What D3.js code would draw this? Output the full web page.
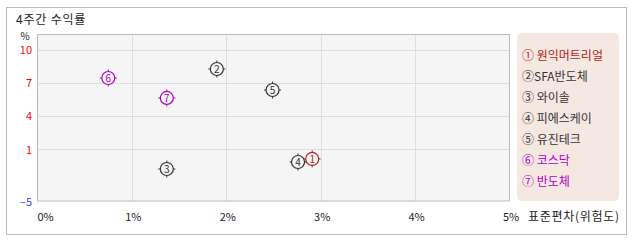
<!DOCTYPE html>
<html>
<head>
<meta charset="utf-8">
<script src="https://cdn.jsdelivr.net/npm/d3@7"></script>
<style>
  body { margin: 0; background: #fff; }
  text { font-family: "Noto Sans CJK KR", "DejaVu Sans", sans-serif; }
</style>
</head>
<body>
<svg id="chart" width="638" height="242"></svg>
<script>
const names = ["원익머트리얼", "SFA반도체", "와이솔", "피에스케이", "유진테크", "코스닥", "반도체"];
const marks = ["①", "②", "③", "④", "⑤", "⑥", "⑦"];
const riskX = [2.91, 1.90, 1.37, 2.76, 2.49, 0.75, 1.37];
const returnY = [-0.15, 8.27, -1.31, -0.5, 6.36, 7.45, 5.64];
const colors = ["#b22222", "#333", "#333", "#333", "#333", "#b000c0", "#b000c0"];
const yTicks = [10, 7, 4, 1, -5];
const xTicks = [0, 1, 2, 3, 4, 5];

const svg = d3.select("#chart");

// frame + title
svg.append("rect").attr("x", 6.5).attr("y", 7.5).attr("width", 620).attr("height", 227)
  .attr("fill", "#fff").attr("stroke", "#bbb");
svg.append("text").attr("x", 16).attr("y", 24).attr("font-size", 12).attr("fill", "#222")
  .attr("letter-spacing", 0.8).text("4주간 수익률");

const x = d3.scaleLinear().domain([0, 5]).range([37.5, 509.5]);
// y axis is compressed below 1
const y = d3.scaleLinear().domain([-5, 1, 11.45]).range([201, 149, 34]);

const plot = { x0: 37.5, x1: 509.5, y0: 34, y1: 201 };
svg.append("rect").attr("x", plot.x0).attr("y", plot.y0)
  .attr("width", plot.x1 - plot.x0).attr("height", plot.y1 - plot.y0)
  .attr("fill", "#f5f5f5");

// grid
svg.append("g").selectAll("line").data(yTicks.filter(d => d > -5)).join("line")
  .attr("x1", plot.x0).attr("x2", plot.x1)
  .attr("y1", d => Math.round(y(d)) + 0.5).attr("y2", d => Math.round(y(d)) + 0.5)
  .attr("stroke", "#ddd");
svg.append("g").selectAll("line").data(xTicks.slice(1, 5)).join("line")
  .attr("x1", d => Math.round(x(d)) + 0.5).attr("x2", d => Math.round(x(d)) + 0.5)
  .attr("y1", plot.y0).attr("y2", plot.y1)
  .attr("stroke", "#ddd");

// plot border
svg.append("path")
  .attr("d", `M${plot.x1},${plot.y0 + 0.5}H${plot.x0}V${plot.y1}H${plot.x1}V${plot.y0}`)
  .attr("fill", "none").attr("stroke", "#bbb");

// y labels
svg.append("text").attr("x", 25).attr("y", 39.5).attr("font-size", 10)
  .attr("text-anchor", "middle").attr("fill", "#222").text("%");
svg.append("g").selectAll("text").data(yTicks).join("text")
  .attr("x", 32).attr("y", d => y(d) + 4.5)
  .attr("text-anchor", "end").attr("font-size", 11)
  .attr("fill", d => d < 0 ? "#3344ff" : "#ff0000")
  .text(d => d < 0 ? "\u20135" : d);

// x labels
svg.append("g").selectAll("text").data(xTicks).join("text")
  .attr("x", d => d === 0 ? x(d) : x(d) + 1.5).attr("y", 221)
  .attr("text-anchor", d => d === 0 ? "start" : "middle")
  .attr("font-size", 11).attr("fill", "#222")
  .text(d => d + "%");
svg.append("text").attr("x", 528).attr("y", 221).attr("font-size", 12)
  .attr("letter-spacing", 0.7).attr("fill", "#222").text("표준편차(위험도)");

// points
const pts = svg.append("g").selectAll("g").data(d3.range(names.length)).join("g")
  .attr("transform", i => `translate(${x(riskX[i])},${y(returnY[i])})`);
pts.append("circle").attr("r", 6.5).attr("fill", "#f5f5f5")
  .attr("stroke", i => colors[i]).attr("stroke-width", 1.2);
pts.append("path").attr("d", "M0,-8.5V-6.5M0,6.5V8.5M-8.5,0H-6.5M6.5,0H8.5")
  .attr("stroke", i => colors[i]).attr("stroke-width", 1);
pts.append("text").attr("y", 4).attr("text-anchor", "middle").attr("font-size", 10)
  .attr("fill", i => colors[i]).text(i => i + 1);

// legend
svg.append("rect").attr("x", 517).attr("y", 33).attr("width", 102).attr("height", 168)
  .attr("rx", 5).attr("fill", "#f5e8e1");
svg.append("g").selectAll("text").data(d3.range(names.length)).join("text")
  .attr("x", 522).attr("y", i => 59.5 + i * 21.1)
  .attr("font-size", 12).attr("fill", i => colors[i])
  .text(i => marks[i] + (i === 1 ? "" : " ") + names[i]);
</script>
</body>
</html>
